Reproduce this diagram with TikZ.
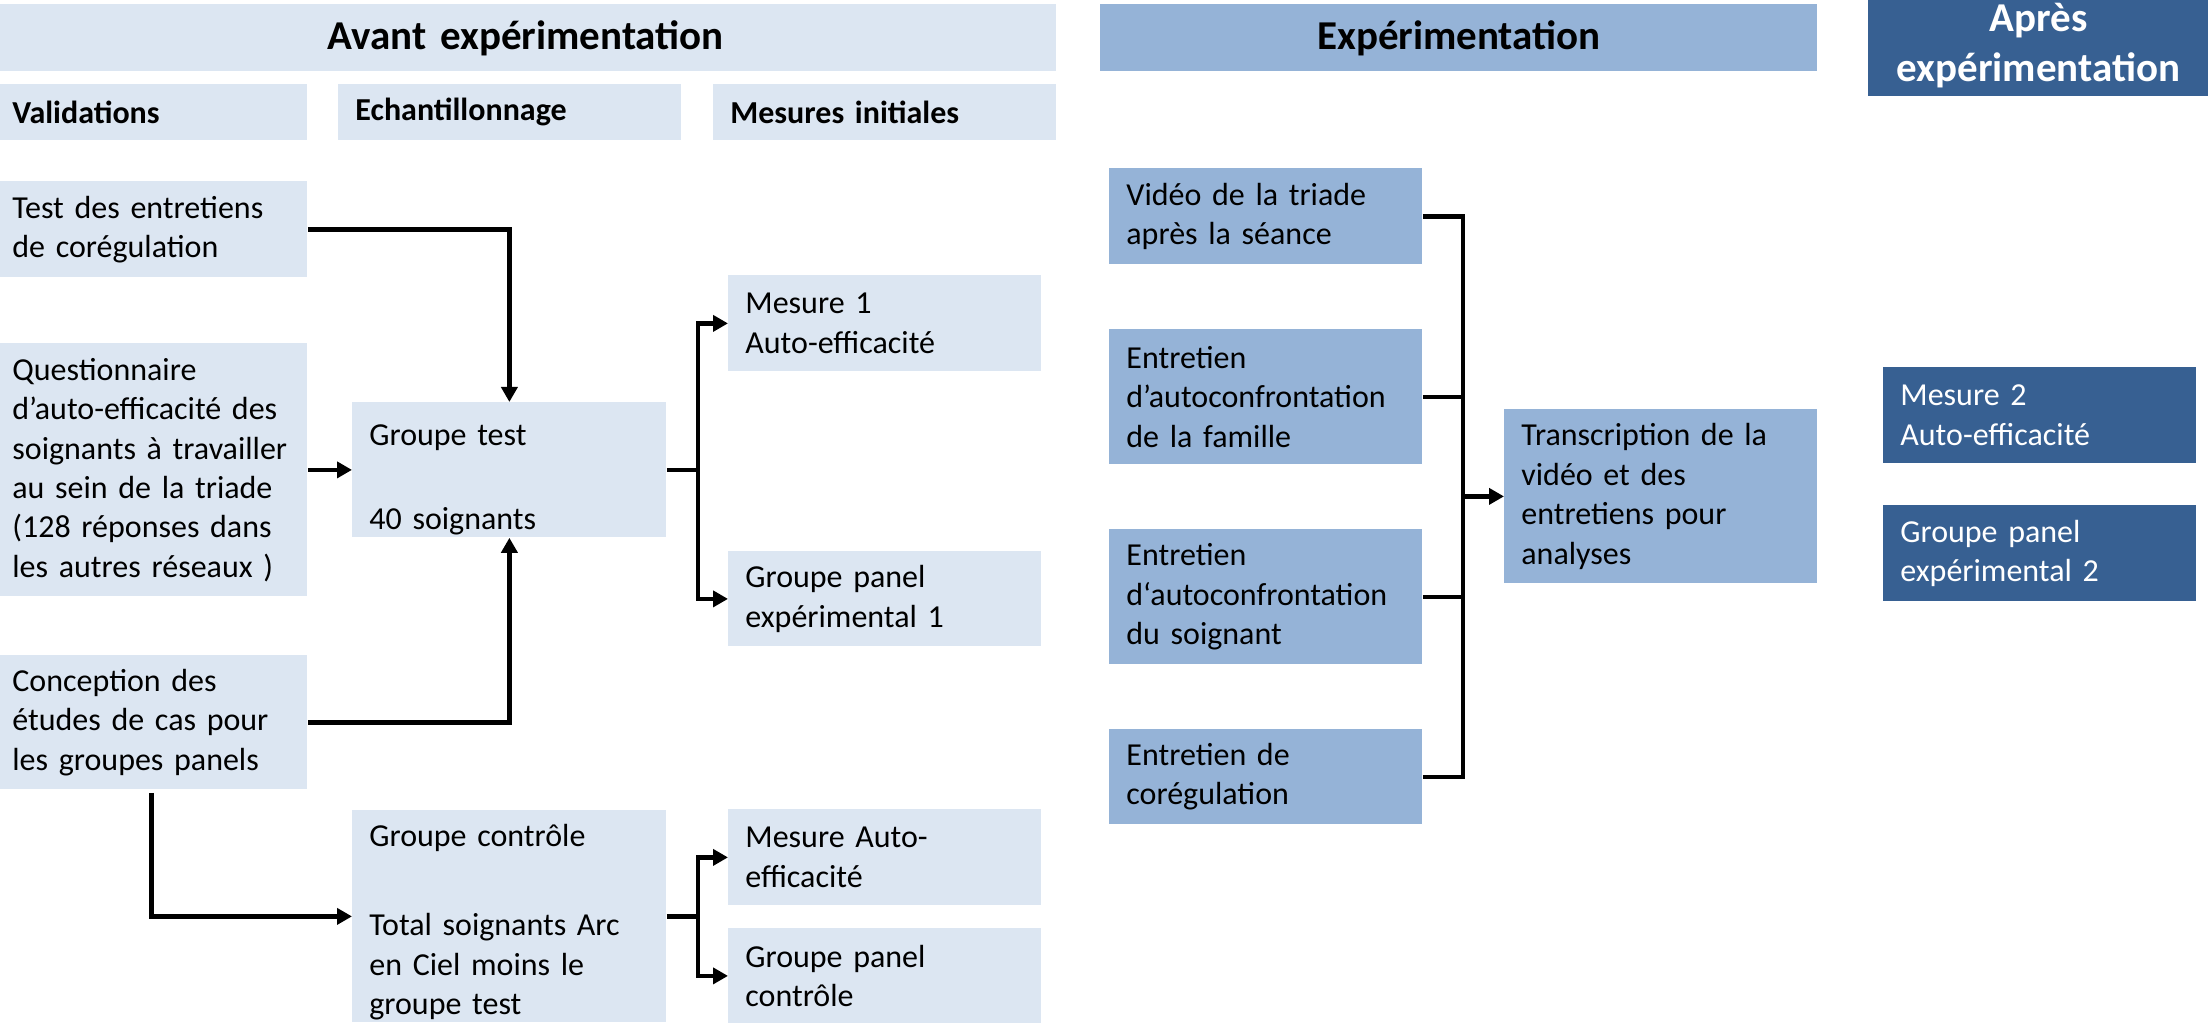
\documentclass[tikz,border=0pt]{standalone}
\usepackage{fontspec}
\setmainfont{Carlito}
\usetikzlibrary{arrows.meta,calc}
\definecolor{lightbox}{HTML}{DCE6F2}
\definecolor{midbox}{HTML}{95B3D7}
\definecolor{darkbox}{HTML}{376092}
\newcommand\mybox[7]{%
  \pgfmathsetmacro\bw{(#4-#2)*0.5}%
  \pgfmathsetmacro\bh{(#5-#3)*0.5}%
  \pgfmathsetmacro\tw{\bw-17}%
  \node[#6, anchor=north west, minimum width=\bw pt, minimum height=\bh pt, text width=\tw pt] (#1) at (#2,#3) {#7};%
}
\tikzset{
  base/.style={inner xsep=8.5pt, inner ysep=0pt, align=left, text=black,
    font=\fontsize{16}{19.7}\selectfont},
  lightb/.style={base, fill=lightbox},
  midb/.style={base, fill=midbox},
  darkb/.style={base, fill=darkbox, text=white},
  subhead/.style={lightb, font=\fontsize{16}{19.7}\selectfont\bfseries},
  bighead/.style={inner xsep=8.5pt, inner ysep=0pt, align=center, text=black,
    font=\fontsize{20.5}{25}\selectfont\bfseries},
  lighthead/.style={bighead, fill=lightbox},
  midhead/.style={bighead, fill=midbox},
  darkhead/.style={bighead, fill=darkbox, text=white},
  conn/.style={line width=2.2pt, line join=miter},
  arr/.style={conn, -{Triangle[length=7.5pt,width=8pt]}},
}
\begin{document}
\begin{tikzpicture}[x=0.5pt, y=-0.5pt]
\useasboundingbox (0,0) rectangle (2208,1032);
% headers
\mybox{avant}{-5}{4}{1056}{71}{lighthead}{Avant expérimentation}
\mybox{exper}{1100}{4}{1817}{71}{midhead}{Expérimentation}
\mybox{apres}{1868}{-6}{2208}{96}{darkhead}{Après\\expérimentation}
\mybox{valid}{-5}{84}{307}{140}{subhead}{Validations}
\mybox{echant}{338}{84}{681}{140}{subhead}{Echantillonnage}
\mybox{mesinit}{713}{84}{1056}{140}{subhead}{Mesures initiales}
% left column
\mybox{test}{-5}{181}{307}{277}{lightb}{Test des entretiens\\de corégulation}
\mybox{quest}{-5}{343}{307}{596}{lightb}{Questionnaire\\d’auto-efficacité des\\soignants à travailler\\au sein de la triade\\(128 réponses dans\\les autres réseaux )}
\mybox{concep}{-5}{655}{307}{789}{lightb}{Conception des\\études de cas pour\\les groupes panels}
% sampling
\mybox{gtest}{352}{402}{666}{537}{lightb}{\rule{0pt}{20pt}Groupe test\\[22.3pt]40 soignants}
\mybox{gctrl}{352}{810}{666}{1022}{lightb}{\rule{0pt}{17pt}Groupe contrôle\\[24.8pt]Total soignants Arc\\en Ciel moins le\\groupe test}
% initial measures
\mybox{mes1}{728}{275}{1041}{371}{lightb}{Mesure 1\\Auto-efficacité}
\mybox{gp1}{728}{551}{1041}{646}{lightb}{Groupe panel\\expérimental 1}
\mybox{mesauto}{728}{809}{1041}{905}{lightb}{Mesure Auto-\\efficacité}
\mybox{gpctrl}{728}{928}{1041}{1023}{lightb}{Groupe panel\\contrôle}
% experimentation
\mybox{video}{1109}{168}{1422}{264}{midb}{Vidéo de la triade\\après la séance}
\mybox{fam}{1109}{329}{1422}{464}{midb}{Entretien\\d’autoconfrontation\\de la famille}
\mybox{soig}{1109}{529}{1422}{664}{midb}{Entretien\\d‘autoconfrontation\\du soignant}
\mybox{coreg}{1109}{729}{1422}{824}{midb}{Entretien de\\corégulation}
\mybox{trans}{1504}{409}{1817}{583}{midb}{Transcription de la\\vidéo et des\\entretiens pour\\analyses}
% after
\mybox{mes2}{1883}{367}{2196}{463}{darkb}{Mesure 2\\Auto-efficacité}
\mybox{gp2}{1883}{505}{2196}{601}{darkb}{Groupe panel\\expérimental 2}
% junctions
\coordinate (j1) at ($(gtest.east)+(31,0)$);
\coordinate (j2) at ($(gctrl.east)+(31,0)$);
\coordinate (jb) at ($(trans.west)+(-41,0)$);
% connectors
\draw[arr] (test.east) -| (gtest.north);
\draw[arr] (quest.east) -- (gtest.west);
\draw[arr] (concep.east) -| (gtest.south);
\draw[arr] ([yshift=-1.5pt]concep.south) |- (gctrl.west);
\draw[conn] (gtest.east) -- (j1);
\draw[arr] (j1) |- (mes1.west);
\draw[arr] (j1) |- (gp1.west);
\draw[conn] (gctrl.east) -- (j2);
\draw[arr] (j2) |- (mesauto.west);
\draw[arr] (j2) |- (gpctrl.west);
\draw[conn] (video.east) -| (jb);
\draw[conn] (coreg.east) -| (jb);
\draw[conn] (fam.east) -- (fam.east -| jb);
\draw[conn] (soig.east) -- (soig.east -| jb);
\draw[arr] (jb) -- (trans.west);
\end{tikzpicture}
\end{document}
